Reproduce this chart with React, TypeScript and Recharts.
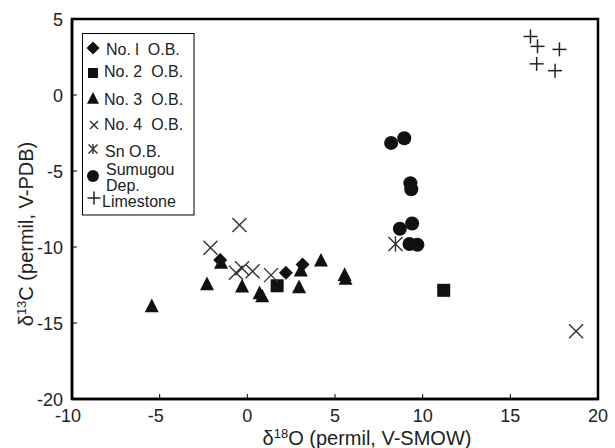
import React from "react";
import { ScatterChart, Scatter, XAxis, YAxis, ReferenceArea } from "recharts";

const no1X = [-1.55, 2.2, 3.15];
const no1Y = [-10.85, -11.7, -11.15];
const no2X = [1.7, 11.2];
const no2Y = [-12.55, -12.85];
const no3X = [-5.45, -2.3, -1.5, -0.3, 0.7, 0.85, 2.95, 3.05, 4.2, 5.55, 5.6];
const no3Y = [-13.85, -12.4, -11.0, -12.55, -13.0, -13.2, -12.6, -11.5, -10.85, -11.8, -12.05];
const no4X = [-0.45, -2.1, -0.65, -0.3, 0.3, 1.35, 18.75];
const no4Y = [-8.55, -10.05, -11.7, -11.4, -11.6, -11.85, -15.55];
const snX = [8.45];
const snY = [-9.8];
const sumX = [8.2, 8.95, 9.3, 9.35, 8.7, 9.4, 9.25, 9.7];
const sumY = [-3.15, -2.85, -5.8, -6.2, -8.8, -8.45, -9.8, -9.85];
const limeX = [16.15, 16.55, 17.8, 16.5, 17.55];
const limeY = [3.85, 3.2, 3.0, 2.05, 1.6];

const xTicks = [-10, -5, 0, 5, 10, 15, 20];
const yTicks = [-20, -15, -10, -5, 0, 5];

const toPts = (xs: number[], ys: number[]) => xs.map((x, i) => ({ x, y: ys[i] }));

const FONT = "'Liberation Sans', Arial, sans-serif";
const INK = "#111";

const Diamond = ({ cx, cy, s = 7 }: any) => (
  <polygon points={`${cx},${cy - s} ${cx + s},${cy} ${cx},${cy + s} ${cx - s},${cy}`} fill={INK} />
);
const Square = ({ cx, cy, s = 6.5 }: any) => (
  <rect x={cx - s} y={cy - s} width={2 * s} height={2 * s} fill={INK} />
);
const Triangle = ({ cx, cy, s = 7 }: any) => (
  <polygon points={`${cx},${cy - s} ${cx + s},${cy + s * 0.95} ${cx - s},${cy + s * 0.95}`} fill={INK} />
);
const Cross = ({ cx, cy, s = 7 }: any) => (
  <g stroke="#333" strokeWidth={1.4}>
    <line x1={cx - s} y1={cy - s} x2={cx + s} y2={cy + s} />
    <line x1={cx - s} y1={cy + s} x2={cx + s} y2={cy - s} />
  </g>
);
const Star = ({ cx, cy, s = 7 }: any) => (
  <g stroke="#333" strokeWidth={1.4}>
    <line x1={cx - s} y1={cy - s} x2={cx + s} y2={cy + s} />
    <line x1={cx - s} y1={cy + s} x2={cx + s} y2={cy - s} />
    <line x1={cx} y1={cy - s * 1.1} x2={cx} y2={cy + s * 1.1} />
  </g>
);
const Dot = ({ cx, cy, s = 7 }: any) => <circle cx={cx} cy={cy} r={s} fill={INK} />;
const Plus = ({ cx, cy, s = 7 }: any) => (
  <g stroke="#222" strokeWidth={1.5}>
    <line x1={cx - s} y1={cy} x2={cx + s} y2={cy} />
    <line x1={cx} y1={cy - s} x2={cx} y2={cy + s} />
  </g>
);

// negative labels: digits centred on the tick, minus sign hangs to the left
const XTick = ({ x, y, payload }: any) => (
  <g>
    <line x1={x} y1={y} x2={x} y2={y - 5} stroke="#000" strokeWidth={1} />
    <text
      x={payload.value < 0 ? x - 4 : x}
      y={y + 23}
      textAnchor="middle"
      fontSize={18}
      fontFamily={FONT}
      fill="#222"
    >
      {payload.value}
    </text>
  </g>
);
const YTick = ({ x, y, payload }: any) => (
  <g>
    <line x1={x} y1={y} x2={x + 5} y2={y} stroke="#000" strokeWidth={1} />
    <text x={x - 9} y={y + 6.5} textAnchor="end" fontSize={18} fontFamily={FONT} fill="#222">
      {payload.value}
    </text>
  </g>
);

const XLabel = () => (
  <text x={367} y={445} textAnchor="middle" fontSize={20} fontFamily={FONT} fill="#222">
    δ<tspan fontSize={13} dy={-7}>18</tspan>
    <tspan dy={7}>O (permil, V-SMOW)</tspan>
  </text>
);
const YLabel = () => (
  <text x={0} y={0} transform="translate(33,234) rotate(-90)" textAnchor="middle" fontSize={20} fontFamily={FONT} fill="#222">
    δ<tspan fontSize={13} dy={-7}>13</tspan>
    <tspan dy={7}>C (permil, V-PDB)</tspan>
  </text>
);

const legendRows = [
  { Icon: Diamond, s: 6.5, ix: 93, iy: 48, tx: 106, base: [55], lines: ["No. l  O.B."] },
  { Icon: Square, s: 5, ix: 93, iy: 73, tx: 104, base: [77], lines: ["No. 2  O.B."] },
  { Icon: Triangle, s: 6, ix: 93, iy: 98, tx: 104, base: [105], lines: ["No. 3  O.B."] },
  { Icon: Cross, s: 4, ix: 94, iy: 125, tx: 104, base: [130], lines: ["No. 4  O.B."] },
  { Icon: Star, s: 4.5, ix: 93, iy: 149, tx: 105, base: [157], lines: ["Sn O.B."] },
  { Icon: Dot, s: 6, ix: 93, iy: 176, tx: 106, base: [175, 191], lines: ["Sumugou", "Dep."] },
  { Icon: Plus, s: 6.5, ix: 94, iy: 198, tx: 102, base: [207], lines: ["Limestone"] },
];

const LegendBox = () => (
  <svg width={615} height={448} style={{ position: "absolute", left: 0, top: 0, pointerEvents: "none" }}>
    <rect x={82.5} y={33.5} width={111.5} height={181.5} fill="#fff" stroke="#000" strokeWidth={1} />
    {legendRows.map((r, i) => {
      const Icon = r.Icon;
      return (
        <g key={i}>
          <Icon cx={r.ix} cy={r.iy} s={r.s} />
          {r.lines.map((ln, j) => (
            <text
              key={j}
              x={r.tx}
              y={r.base[j]}
              fontSize={16}
              fontFamily={FONT}
              fill="#222"
              style={{ whiteSpace: "pre" }}
            >
              {ln}
            </text>
          ))}
        </g>
      );
    })}
  </svg>
);

export default function App() {
  return (
    <div style={{ position: "absolute", left: 0, top: 0, width: 615, height: 448, background: "#fff" }}>
      <ScatterChart width={615} height={448} margin={{ top: 19, right: 17, left: 0, bottom: 0 }}>
        <XAxis
          type="number"
          dataKey="x"
          domain={[-10, 20]}
          ticks={xTicks}
          height={49}
          tickSize={0}
          tickMargin={0}
          tickLine={false}
          axisLine={{ stroke: "#000", strokeWidth: 2.5 }}
          tick={<XTick />}
          interval={0}
          allowDataOverflow
        />
        <YAxis
          type="number"
          dataKey="y"
          domain={[-20, 5]}
          ticks={yTicks}
          width={72}
          tickSize={0}
          tickMargin={0}
          tickLine={false}
          axisLine={{ stroke: "#000", strokeWidth: 2.5 }}
          tick={<YTick />}
          interval={0}
          allowDataOverflow
        />
        <ReferenceArea x1={-10} x2={20} y1={-20} y2={5} fill="none" stroke="#000" strokeWidth={2.5} fillOpacity={0} />
        <Scatter data={toPts(no3X, no3Y)} isAnimationActive={false} shape={(p: any) => <Triangle cx={p.cx} cy={p.cy} />} />
        <Scatter data={toPts(no2X, no2Y)} isAnimationActive={false} shape={(p: any) => <Square cx={p.cx} cy={p.cy} />} />
        <Scatter data={toPts(no1X, no1Y)} isAnimationActive={false} shape={(p: any) => <Diamond cx={p.cx} cy={p.cy} />} />
        <Scatter data={toPts(sumX, sumY)} isAnimationActive={false} shape={(p: any) => <Dot cx={p.cx} cy={p.cy} />} />
        <Scatter data={toPts(no4X, no4Y)} isAnimationActive={false} shape={(p: any) => <Cross cx={p.cx} cy={p.cy} />} />
        <Scatter data={toPts(snX, snY)} isAnimationActive={false} shape={(p: any) => <Star cx={p.cx} cy={p.cy} />} />
        <Scatter data={toPts(limeX, limeY)} isAnimationActive={false} shape={(p: any) => <Plus cx={p.cx} cy={p.cy} />} />
      </ScatterChart>
      <svg width={615} height={448} style={{ position: "absolute", left: 0, top: 0, pointerEvents: "none" }}>
        <XLabel />
        <YLabel />
      </svg>
      <LegendBox />
    </div>
  );
}
